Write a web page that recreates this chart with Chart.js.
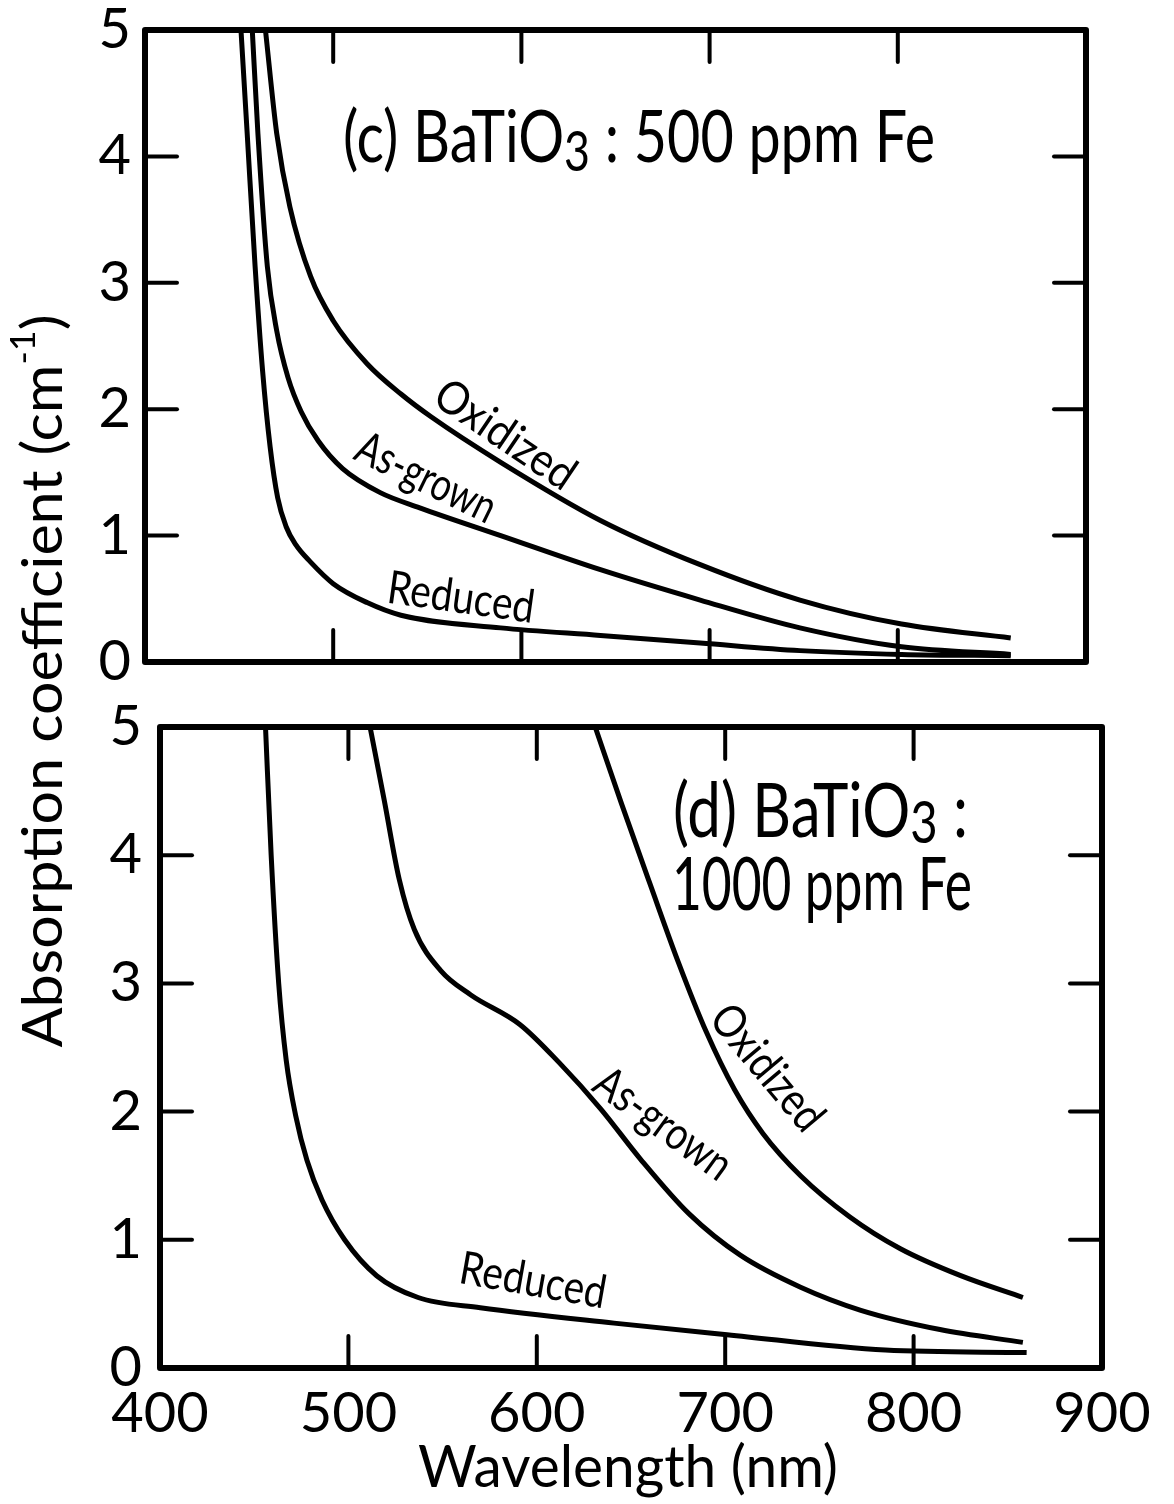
<!DOCTYPE html>
<html>
<head>
<meta charset="utf-8">
<script src="https://cdn.jsdelivr.net/npm/chart.js@4.4.0/dist/chart.umd.min.js"></script>
<style>
html, body { margin: 0; padding: 0; background: #fff; }
#wrap { position: relative; width: 1174px; height: 1504px; }
canvas { position: absolute; left: 0; top: 0; }
#panelC { z-index: 2; }
</style>
</head>
<body>
<div id="wrap">
	<canvas id="panelD" width="1174" height="1504"></canvas>
	<canvas id="panelC" width="1174" height="700"></canvas>
</div>
<script>
const FONT = "Lato, 'DejaVu Sans', sans-serif";

// (c) BaTiO3 : 500 ppm Fe
const cOxWl = [464, 470, 477, 488, 500, 518, 536, 552, 589, 642, 695, 748, 802, 860];
const cOxAb = [5.0, 4.18, 3.6, 3.05, 2.7, 2.36, 2.12, 1.94, 1.58, 1.12, 0.77, 0.49, 0.30, 0.19];
const cAgWl = [457, 460, 465, 470, 476, 483, 492, 505, 525, 546, 589, 642, 695, 748, 802, 860];
const cAgAb = [5.0, 4.18, 3.13, 2.62, 2.25, 1.98, 1.75, 1.53, 1.34, 1.22, 1.0, 0.73, 0.49, 0.27, 0.12, 0.06];
const cRdWl = [451, 454.3, 458.5, 462.5, 466.5, 470.5, 475, 480, 488, 500, 518, 536, 589, 642, 695, 748, 802, 860];
const cRdAb = [5.0, 4.18, 3.13, 2.3, 1.7, 1.3, 1.07, 0.93, 0.79, 0.62, 0.47, 0.37, 0.27, 0.21, 0.15, 0.09, 0.06, 0.05];

// (d) BaTiO3 : 1000 ppm Fe
const dOxWl = [631, 645, 660, 675, 690, 705, 720, 740, 766, 793, 825, 858];
const dOxAb = [5.0, 4.4, 3.78, 3.17, 2.62, 2.17, 1.83, 1.5, 1.18, 0.93, 0.72, 0.55];
const dAgWl = [511.5, 519, 527, 535, 549, 565, 591, 612, 634, 655, 681, 708, 740, 772, 814, 858];
const dAgAb = [5.0, 4.43, 3.81, 3.42, 3.1, 2.91, 2.68, 2.38, 2.02, 1.63, 1.2, 0.88, 0.63, 0.45, 0.3, 0.2];
const dRdWl = [456, 459, 463, 467, 472, 478, 486, 498, 515, 537, 570, 641, 701, 785, 860];
const dRdAb = [5.0, 4.0, 3.0, 2.4, 1.97, 1.62, 1.31, 1.0, 0.72, 0.55, 0.47, 0.35, 0.26, 0.14, 0.12];

const wlRange = [400, 900];
const abRange = [0, 5];
const curveNames = ["Oxidized", "As-grown", "Reduced"];

function pts(wl, ab) {
	return wl.map((w, i) => ({ x: w, y: ab[i] }));
}

function curve(name, wl, ab) {
	return {
		label: name,
		data: pts(wl, ab),
		borderColor: "#000",
		borderWidth: 5,
		pointRadius: 0,
		cubicInterpolationMode: "monotone",
		fill: false,
	};
}

function seg(ctx, x1, y1, x2, y2) {
	ctx.beginPath();
	ctx.moveTo(x1, y1);
	ctx.lineTo(x2, y2);
	ctx.stroke();
}

// texto em partes (subscrito/sobrescrito), ajustado a uma largura
function drawText(ctx, t) {
	ctx.save();
	ctx.translate(t.x, t.y);
	ctx.rotate(((t.angle || 0) * Math.PI) / 180);
	ctx.textAlign = "left";
	ctx.textBaseline = t.center ? "middle" : "alphabetic";
	const parts = t.parts.map((p) => {
		ctx.font = `${Math.round(t.size * (p.scale || 1))}px ${FONT}`;
		return { ...p, w: ctx.measureText(p.text).width };
	});
	const total = parts.reduce((s, p) => s + p.w, 0);
	ctx.scale(t.width / total, 1);
	let cx = t.center ? -total / 2 : 0;
	parts.forEach((p) => {
		ctx.font = `${Math.round(t.size * (p.scale || 1))}px ${FONT}`;
		ctx.fillText(p.text, cx, (p.dy || 0) * t.size);
		cx += p.w;
	});
	ctx.restore();
}

function makeInk(tickLen, texts) {
	return {
		id: "ink",
		afterDraw(chart) {
			const { ctx, chartArea: a, scales } = chart;
			const xs = scales.x;
			const ys = scales.y;
			ctx.save();
			ctx.strokeStyle = "#000";
			ctx.fillStyle = "#000";
			ctx.lineCap = "round";
			ctx.lineWidth = 4;
			xs.ticks.forEach((t) => {
				if (t.value <= xs.min || t.value >= xs.max) return;
				const p = xs.getPixelForValue(t.value);
				seg(ctx, p, a.bottom, p, a.bottom - tickLen);
				seg(ctx, p, a.top, p, a.top + tickLen);
			});
			ys.ticks.forEach((t) => {
				if (t.value <= ys.min || t.value >= ys.max) return;
				const p = ys.getPixelForValue(t.value);
				seg(ctx, a.left, p, a.left + tickLen, p);
				seg(ctx, a.right, p, a.right - tickLen, p);
			});
			ctx.lineWidth = 6;
			ctx.lineJoin = "round";
			ctx.strokeRect(a.left, a.top, a.width, a.height);
			texts.forEach((t) => drawText(ctx, t));
			ctx.restore();
		},
	};
}

function axes(o) {
	return {
		x: {
			type: "linear",
			min: wlRange[0],
			max: wlRange[1],
			border: { display: false },
			grid: { display: false, drawTicks: false },
			ticks: {
				stepSize: 100,
				display: o.xLabels,
				color: "#000",
				font: { family: FONT, size: 56 },
				padding: o.xPad,
				maxRotation: 0,
				autoSkip: false,
			},
			afterFit(s) {
				s.height = o.xH;
			},
		},
		y: {
			min: abRange[0],
			max: abRange[1],
			border: { display: false },
			grid: { display: false, drawTicks: false },
			ticks: {
				stepSize: 1,
				color: "#000",
				font: { family: FONT, size: 56, lineHeight: 0.5 },
				padding: o.yPad,
			},
			afterFit(s) {
				s.width = o.yW;
			},
		},
	};
}

const textsC = [
	{ x: 343, y: 162, width: 592, size: 72, parts: [
		{ text: "(c) BaTiO" }, { text: "3", scale: 0.78, dy: 0.13 }, { text: " : 500 ppm Fe" }] },
	{ x: 505, y: 435, width: 160, size: 46, angle: 34, center: true, parts: [{ text: curveNames[0] }] },
	{ x: 426, y: 478, width: 150, size: 46, angle: 26, center: true, parts: [{ text: curveNames[1] }] },
	{ x: 461, y: 598, width: 148, size: 46, angle: 8, center: true, parts: [{ text: curveNames[2] }] },
];

const textsD = [
	{ x: 673, y: 837, width: 295, size: 75, parts: [
		{ text: "(d) BaTiO" }, { text: "3", scale: 0.78, dy: 0.08 }, { text: " :" }] },
	{ x: 672, y: 910, width: 300, size: 74, parts: [{ text: "1000 ppm Fe" }] },
	{ x: 767, y: 1068, width: 150, size: 46, angle: 50, center: true, parts: [{ text: curveNames[0] }] },
	{ x: 663, y: 1124, width: 158, size: 46, angle: 36, center: true, parts: [{ text: curveNames[1] }] },
	{ x: 533, y: 1281, width: 148, size: 46, angle: 10, center: true, parts: [{ text: curveNames[2] }] },
	{ x: 418, y: 1487, width: 420, size: 58, parts: [{ text: "Wavelength (nm)" }] },
	{ x: 44, y: 681, width: 733, size: 56, angle: -90, center: true, parts: [
		{ text: "Absorption coefficient (cm" }, { text: "-1", scale: 0.6, dy: -0.35 }, { text: ")" }] },
];

new Chart(document.querySelector("#panelC"), {
	type: "line",
	data: {
		datasets: [
			curve(curveNames[0], cOxWl, cOxAb),
			curve(curveNames[1], cAgWl, cAgAb),
			curve(curveNames[2], cRdWl, cRdAb),
		],
	},
	options: {
		responsive: false,
		animation: false,
		devicePixelRatio: 1,
		layout: { padding: { top: 30, right: 88, bottom: 0, left: 0 } },
		plugins: { legend: { display: false }, tooltip: { enabled: false } },
		scales: axes({ xLabels: false, xPad: 0, xH: 38, yPad: 14, yW: 145 }),
	},
	plugins: [makeInk(32, textsC)],
});

new Chart(document.querySelector("#panelD"), {
	type: "line",
	data: {
		datasets: [
			curve(curveNames[0], dOxWl, dOxAb),
			curve(curveNames[1], dAgWl, dAgAb),
			curve(curveNames[2], dRdWl, dRdAb),
		],
	},
	options: {
		responsive: false,
		animation: false,
		devicePixelRatio: 1,
		layout: { padding: { top: 727, right: 72, bottom: 0, left: 0 } },
		plugins: { legend: { display: false }, tooltip: { enabled: false } },
		scales: axes({ xLabels: true, xPad: 12, xH: 136, yPad: 18, yW: 160 }),
	},
	plugins: [makeInk(32, textsD)],
});
</script>
</body>
</html>
